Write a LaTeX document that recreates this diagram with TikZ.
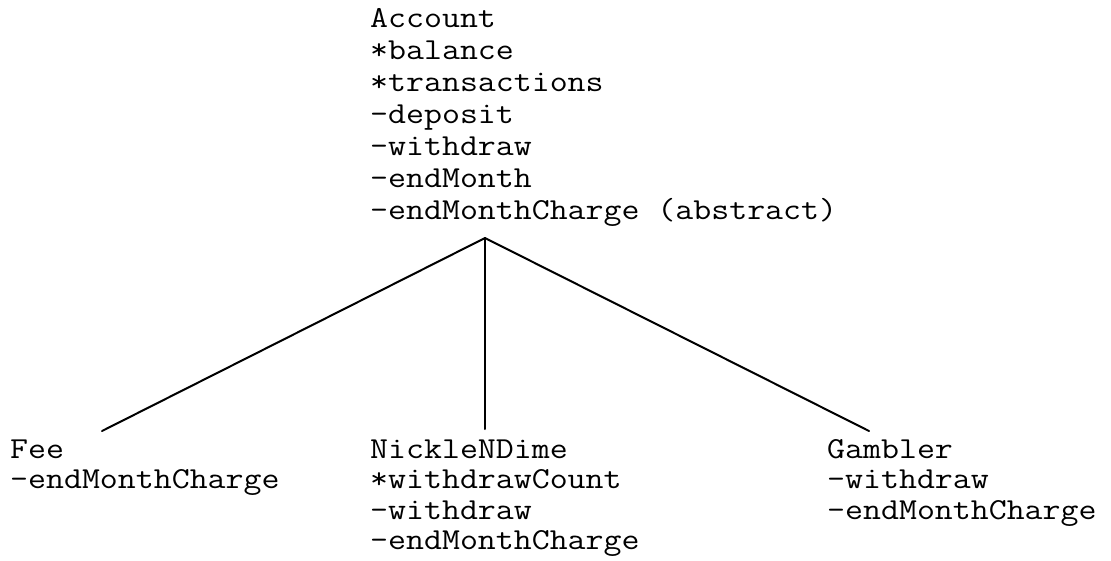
\documentclass[tikz,border=0pt]{standalone}
\begin{document}
\begin{tikzpicture}[x=1pt,y=-1pt,
  cls/.style={anchor=base west,inner sep=0pt,align=left,xscale=1.143,
    font=\fontsize{30.5pt}{30.5pt}\selectfont\ttfamily},
  top/.style={font=\fontsize{30.5pt}{32pt}\selectfont\ttfamily},
  link/.style={line width=2pt,line cap=round,line join=round}]
\useasboundingbox (0,0) rectangle (1111,560);
\node[cls,top] (account) at (370,219) {Account\\*balance\\*transactions\\-deposit\\-withdraw\\-endMonth\\-endMonthCharge (abstract)};
\node[cls] (fee) at (10,488.5) {Fee\\-endMonthCharge};
\node[cls] (nickle) at (370,549.5) {NickleNDime\\*withdrawCount\\-withdraw\\-endMonthCharge};
\node[cls] (gambler) at (827,519) {Gambler\\-withdraw\\-endMonthCharge};
\coordinate (apex) at (485,238);
\coordinate (feeend) at (102,431);
\coordinate (nickleend) at (485,429);
\coordinate (gamblerend) at (869,431);
\draw[link] (apex) -- (feeend);
\draw[link] (apex) -- (nickleend);
\draw[link] (apex) -- (gamblerend);
\end{tikzpicture}
\end{document}
